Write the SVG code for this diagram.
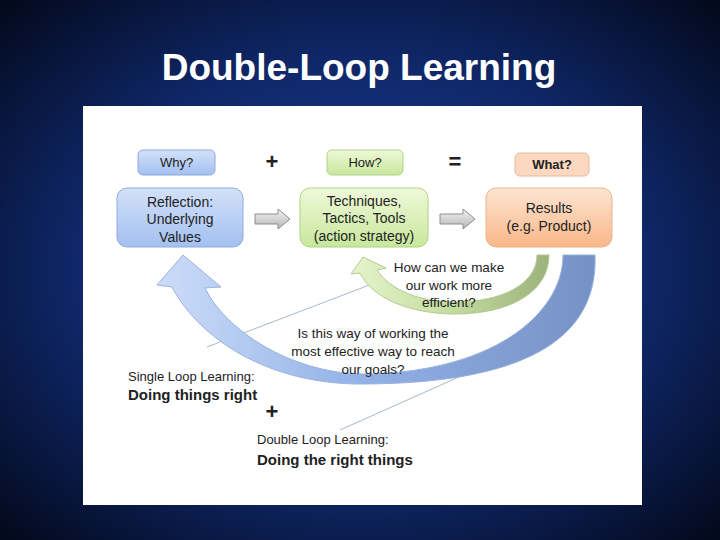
<svg xmlns="http://www.w3.org/2000/svg" width="720" height="540" viewBox="0 0 720 540">
<defs>
<radialGradient id="bg" cx="50%" cy="50%" r="72%">
<stop offset="0" stop-color="#1d42a0"/>
<stop offset="0.55" stop-color="#0f2768"/>
<stop offset="1" stop-color="#020717"/>
</radialGradient>
<linearGradient id="gBlue" x1="0" y1="0" x2="0" y2="1">
<stop offset="0" stop-color="#d3e1f9"/>
<stop offset="1" stop-color="#a3c0f0"/>
</linearGradient>
<linearGradient id="gGreen" x1="0" y1="0" x2="0" y2="1">
<stop offset="0" stop-color="#eff9da"/>
<stop offset="1" stop-color="#c8e79c"/>
</linearGradient>
<linearGradient id="gOrange" x1="0" y1="0" x2="0" y2="1">
<stop offset="0" stop-color="#fde5d2"/>
<stop offset="1" stop-color="#f8b789"/>
</linearGradient>
<linearGradient id="gGray" x1="0" y1="0" x2="0" y2="1">
<stop offset="0" stop-color="#f4f4f4"/>
<stop offset="1" stop-color="#b5b5b5"/>
</linearGradient>
<linearGradient id="gLoopBlue" gradientUnits="userSpaceOnUse" x1="160" y1="0" x2="600" y2="0">
<stop offset="0" stop-color="#cbdcf8"/>
<stop offset="0.45" stop-color="#93b2e8"/>
<stop offset="1" stop-color="#7590c4"/>
</linearGradient>
<linearGradient id="gLoopGreen" gradientUnits="userSpaceOnUse" x1="350" y1="0" x2="550" y2="0">
<stop offset="0" stop-color="#e6f4cc"/>
<stop offset="0.5" stop-color="#c3dca0"/>
<stop offset="1" stop-color="#9bb27c"/>
</linearGradient>
<style>
.t{font-family:"Liberation Sans",Arial,sans-serif;fill:#222;}
.box{font-size:14px;text-anchor:middle;}
.small{font-size:13px;text-anchor:middle;}
.q{font-size:13.5px;text-anchor:middle;}
.op{font-family:"Liberation Sans",Arial,sans-serif;font-size:22px;font-weight:bold;fill:#222;text-anchor:middle;}
.blk{fill:url(#gGray);stroke:#8e8e8e;stroke-width:1;}
.callout{stroke:#a8b8cf;stroke-width:1;fill:none;}
</style>
</defs>
<rect x="0" y="0" width="720" height="540" fill="url(#bg)"/>
<text x="359" y="80" font-family="'Liberation Sans',Arial,sans-serif" font-size="37" font-weight="bold" fill="#ffffff" text-anchor="middle">Double-Loop Learning</text>
<rect x="83" y="106" width="559" height="399" fill="#ffffff"/>

<g id="connectors">
<path class="callout" d="M207,347 L372,284"/>
<path class="callout" d="M340,430 L470,372"/>
<path id="loop-double" d="M563,255 L595,255 C598,330 540,384 360,384 C270,384 200,340 172,287 L157,285 L183,255 L221,287 L205,288 C225,330 290,372 360,374 C490,374 563,315 563,255 Z" fill="url(#gLoopBlue)" stroke="#9ab2dd" stroke-width="1"/>
<path id="loop-single" d="M537,255 L549,255 C549,292 510,314 455,314 C410,314 372,298 360,273 L351,274 L363,257 L386,268 L377,270 C390,290 420,302 455,302 C500,302 537,285 537,255 Z" fill="url(#gLoopGreen)" stroke="#b4cb92" stroke-width="1"/>
<path class="blk" d="M255,214 L278,214 L278,209 L290,219 L278,229 L278,224 L255,224 Z"/>
<path class="blk" d="M440,214 L463,214 L463,209 L475,219 L463,229 L463,224 L440,224 Z"/>
</g>

<g id="why">
<rect x="138" y="150" width="77" height="25" rx="5" fill="url(#gBlue)" stroke="#8eaade"/>
<text class="t small" x="176.5" y="167">Why?</text>
</g>
<g id="how">
<rect x="327" y="150" width="76" height="25" rx="5" fill="url(#gGreen)" stroke="#b0d184"/>
<text class="t small" x="365" y="167">How?</text>
</g>
<g id="what">
<rect x="515" y="153" width="74" height="23" rx="5" fill="#fbd8bf" stroke="#e6bb9c"/>
<text class="t small" x="552" y="169" font-weight="bold">What?</text>
</g>
<text class="op" x="272" y="169">+</text>
<text class="op" x="455" y="169">=</text>

<g id="reflection">
<rect x="117" y="188" width="126" height="59" rx="10" fill="url(#gBlue)" stroke="#8eaade"/>
<text class="t box" x="180" y="207">Reflection:</text>
<text class="t box" x="180" y="224">Underlying</text>
<text class="t box" x="180" y="242">Values</text>
</g>
<g id="techniques">
<rect x="300" y="188" width="128" height="59" rx="10" fill="url(#gGreen)" stroke="#b0d184"/>
<text class="t box" x="364" y="206">Techniques,</text>
<text class="t box" x="364" y="223">Tactics, Tools</text>
<text class="t box" x="364" y="241">(action strategy)</text>
</g>
<g id="results">
<rect x="486" y="188" width="126" height="59" rx="10" fill="url(#gOrange)" stroke="#eeb48a"/>
<text class="t box" x="549" y="213">Results</text>
<text class="t box" x="549" y="231">(e.g. Product)</text>
</g>

<g id="question-single">
<text class="t q" x="449" y="272">How can we make</text>
<text class="t q" x="449" y="290">our work more</text>
<text class="t q" x="449" y="307">efficient?</text>
</g>
<g id="question-double">
<text class="t q" x="373" y="338">Is this way of working the</text>
<text class="t q" x="373" y="356">most effective way to reach</text>
<text class="t q" x="373" y="374">our goals?</text>
</g>

<g id="single-loop">
<text class="t" x="128" y="381" font-size="13">Single Loop Learning:</text>
<text class="t" x="128" y="400" font-size="15" font-weight="bold">Doing things right</text>
</g>
<text class="op" x="272" y="419" font-size="20">+</text>
<g id="double-loop">
<text class="t" x="257" y="444" font-size="13">Double Loop Learning:</text>
<text class="t" x="257" y="465" font-size="15" font-weight="bold">Doing the right things</text>
</g>
</svg>
